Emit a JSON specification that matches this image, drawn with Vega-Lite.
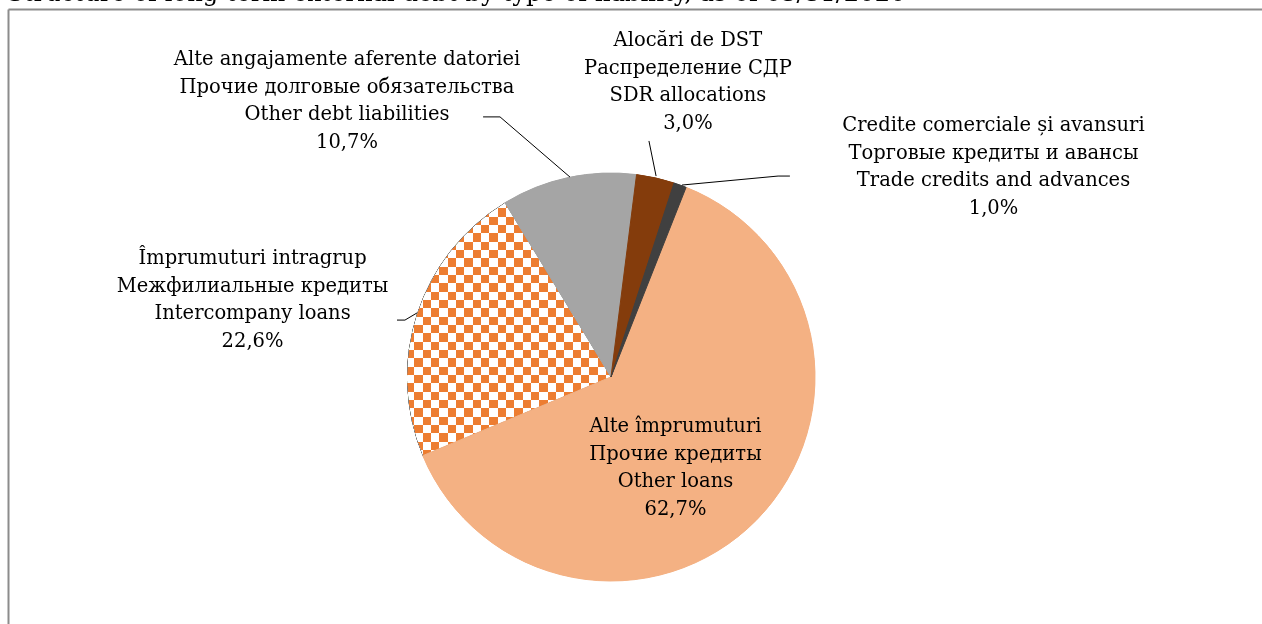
{
  "$schema": "https://vega.github.io/schema/vega-lite/v6.json",
  "width": 1254,
  "height": 615,
  "autosize": {"type": "none"},
  "padding": {"left": 8, "top": 9, "right": 0, "bottom": 0},
  "background": "white",
  "title": {
    "text": "Structure of long-term external debt by type of liability, as of 03/31/2020",
    "anchor": "start",
    "font": "DejaVu Serif",
    "fontSize": 24.3,
    "fontWeight": "normal",
    "color": "#000000",
    "baseline": "alphabetic",
    "offset": 0,
    "dy": 16,
    "dx": -1
  },
  "config": {
    "view": {"stroke": null},
    "font": "DejaVu Serif",
    "axis": {"minExtent": 0, "maxExtent": 0, "labelPadding": 0, "offset": 0}
  },
  "datasets": {
    "slices": [
      {"category": "Other loans", "value": 62.7, "ord": 1},
      {"category": "Intercompany loans", "value": 22.6, "ord": 2},
      {"category": "Other debt liabilities", "value": 10.7, "ord": 3},
      {"category": "SDR allocations", "value": 3.0, "ord": 4},
      {"category": "Trade credits and advances", "value": 1.0, "ord": 5}
    ],
    "labels": [
      {"category": "Other debt liabilities", "label": "Alte angajamente aferente datoriei\nПрочие долговые обязательства\nOther debt liabilities\n10,7%", "lx": -1.294, "ly": 1.559},
      {"category": "SDR allocations", "label": "Alocări de DST\nРаспределение СДР\nSDR allocations\n3,0%", "lx": 0.377, "ly": 1.652},
      {"category": "Trade credits and advances", "label": "Credite comerciale și avansuri\nТорговые кредиты и авансы\nTrade credits and advances\n1,0%", "lx": 1.875, "ly": 1.235},
      {"category": "Intercompany loans", "label": "Împrumuturi intragrup\nМежфилиальные кредиты\nIntercompany loans\n22,6%", "lx": -1.757, "ly": 0.583},
      {"category": "Other loans", "label": "Alte împrumuturi\nПрочие кредиты\nOther loans\n62,7%", "lx": 0.316, "ly": -0.240}
    ],
    "leaders": [
      {"leader": "Other debt liabilities", "seq": 1, "lx": -0.627, "ly": 1.275},
      {"leader": "Other debt liabilities", "seq": 2, "lx": -0.544, "ly": 1.275},
      {"leader": "Other debt liabilities", "seq": 3, "lx": -0.201, "ly": 0.980},
      {"leader": "SDR allocations", "seq": 1, "lx": 0.186, "ly": 1.157},
      {"leader": "SDR allocations", "seq": 2, "lx": 0.221, "ly": 0.985},
      {"leader": "Trade credits and advances", "seq": 1, "lx": 0.877, "ly": 0.985},
      {"leader": "Trade credits and advances", "seq": 2, "lx": 0.819, "ly": 0.985},
      {"leader": "Trade credits and advances", "seq": 3, "lx": 0.348, "ly": 0.941},
      {"leader": "Intercompany loans", "seq": 1, "lx": -1.049, "ly": 0.279},
      {"leader": "Intercompany loans", "seq": 2, "lx": -1.010, "ly": 0.279},
      {"leader": "Intercompany loans", "seq": 3, "lx": -0.951, "ly": 0.314}
    ]
  },
  "layer": [
    {
      "data": {"name": "slices"},
      "mark": {"type": "arc", "outerRadius": 204},
      "encoding": {
        "x": {"datum": 0, "type": "quantitative", "scale": {"domain": [-2.9559, 3.1912], "nice": false, "zero": false},
              "axis": {"orient": "top", "domain": true, "domainColor": "#8c8c8c", "domainWidth": 2, "ticks": false, "labels": false, "grid": false, "title": null}},
        "y": {"datum": 0, "type": "quantitative", "scale": {"domain": [-1.2108, 1.8039], "nice": false, "zero": false},
              "axis": {"orient": "left", "domain": true, "domainColor": "#8c8c8c", "domainWidth": 2, "ticks": false, "labels": false, "grid": false, "title": null}},
        "theta": {"field": "value", "type": "quantitative", "stack": true, "scale": {"range": [0.377, 6.6602]}},
        "order": {"field": "ord", "type": "quantitative"},
        "color": {"field": "category", "type": "nominal", "legend": null,
          "scale": {"domain": ["Other loans", "Intercompany loans", "Other debt liabilities", "SDR allocations", "Trade credits and advances"],
                    "range": ["#F4B183", "#ED7D31", "#A5A5A5", "#843C0C", "#404040"]}}
      }
    },
    {
      "data": {"name": "slices"},
      "mark": {"type": "arc", "outerRadius": 204,
        "fill": {"gradient": "linear", "x1": 0, "y1": 0, "x2": 1, "y2": 0, "stops": [
          {"offset": 0, "color": "#1282CE"}, {"offset": 0.0359, "color": "#1282CE"}, {"offset": 0.0359, "color": "#000000"}, {"offset": 0.0768, "color": "#000000"},
          {"offset": 0.0768, "color": "#1282CE"}, {"offset": 0.1176, "color": "#1282CE"}, {"offset": 0.1176, "color": "#000000"}, {"offset": 0.1585, "color": "#000000"},
          {"offset": 0.1585, "color": "#1282CE"}, {"offset": 0.1993, "color": "#1282CE"}, {"offset": 0.1993, "color": "#000000"}, {"offset": 0.2402, "color": "#000000"},
          {"offset": 0.2402, "color": "#1282CE"}, {"offset": 0.2810, "color": "#1282CE"}, {"offset": 0.2810, "color": "#000000"}, {"offset": 0.3219, "color": "#000000"},
          {"offset": 0.3219, "color": "#1282CE"}, {"offset": 0.3627, "color": "#1282CE"}, {"offset": 0.3627, "color": "#000000"}, {"offset": 0.4036, "color": "#000000"},
          {"offset": 0.4036, "color": "#1282CE"}, {"offset": 0.4444, "color": "#1282CE"}, {"offset": 0.4444, "color": "#000000"}, {"offset": 0.4853, "color": "#000000"},
          {"offset": 0.4853, "color": "#1282CE"}, {"offset": 0.5261, "color": "#1282CE"}, {"offset": 0.5261, "color": "#000000"}, {"offset": 0.5670, "color": "#000000"},
          {"offset": 0.5670, "color": "#1282CE"}, {"offset": 0.6078, "color": "#1282CE"}, {"offset": 0.6078, "color": "#000000"}, {"offset": 0.6487, "color": "#000000"},
          {"offset": 0.6487, "color": "#1282CE"}, {"offset": 0.6895, "color": "#1282CE"}, {"offset": 0.6895, "color": "#000000"}, {"offset": 0.7304, "color": "#000000"},
          {"offset": 0.7304, "color": "#1282CE"}, {"offset": 0.7712, "color": "#1282CE"}, {"offset": 0.7712, "color": "#000000"}, {"offset": 0.8121, "color": "#000000"},
          {"offset": 0.8121, "color": "#1282CE"}, {"offset": 0.8529, "color": "#1282CE"}, {"offset": 0.8529, "color": "#000000"}, {"offset": 0.8938, "color": "#000000"},
          {"offset": 0.8938, "color": "#1282CE"}, {"offset": 0.9346, "color": "#1282CE"}, {"offset": 0.9346, "color": "#000000"}, {"offset": 0.9755, "color": "#000000"},
          {"offset": 0.9755, "color": "#1282CE"}, {"offset": 1, "color": "#1282CE"}
        ]}},
      "encoding": {
        "x": {"datum": 0, "type": "quantitative"},
        "y": {"datum": 0, "type": "quantitative"},
        "theta": {"field": "value", "type": "quantitative", "stack": true},
        "order": {"field": "ord", "type": "quantitative"},
        "opacity": {"condition": {"test": "datum.category === 'Intercompany loans'", "value": 1}, "value": 0}
      }
    },
    {
      "data": {"name": "slices"},
      "mark": {"type": "arc", "outerRadius": 204, "blend": "difference",
        "fill": {"gradient": "linear", "x1": 0, "y1": 0, "x2": 0, "y2": 1, "stops": [
          {"offset": 0, "color": "#000000"}, {"offset": 0.0223, "color": "#000000"}, {"offset": 0.0223, "color": "#1282CE"}, {"offset": 0.0552, "color": "#1282CE"},
          {"offset": 0.0552, "color": "#000000"}, {"offset": 0.0881, "color": "#000000"}, {"offset": 0.0881, "color": "#1282CE"}, {"offset": 0.1211, "color": "#1282CE"},
          {"offset": 0.1211, "color": "#000000"}, {"offset": 0.1540, "color": "#000000"}, {"offset": 0.1540, "color": "#1282CE"}, {"offset": 0.1870, "color": "#1282CE"},
          {"offset": 0.1870, "color": "#000000"}, {"offset": 0.2199, "color": "#000000"}, {"offset": 0.2199, "color": "#1282CE"}, {"offset": 0.2528, "color": "#1282CE"},
          {"offset": 0.2528, "color": "#000000"}, {"offset": 0.2858, "color": "#000000"}, {"offset": 0.2858, "color": "#1282CE"}, {"offset": 0.3187, "color": "#1282CE"},
          {"offset": 0.3187, "color": "#000000"}, {"offset": 0.3517, "color": "#000000"}, {"offset": 0.3517, "color": "#1282CE"}, {"offset": 0.3846, "color": "#1282CE"},
          {"offset": 0.3846, "color": "#000000"}, {"offset": 0.4175, "color": "#000000"}, {"offset": 0.4175, "color": "#1282CE"}, {"offset": 0.4505, "color": "#1282CE"},
          {"offset": 0.4505, "color": "#000000"}, {"offset": 0.4834, "color": "#000000"}, {"offset": 0.4834, "color": "#1282CE"}, {"offset": 0.5163, "color": "#1282CE"},
          {"offset": 0.5163, "color": "#000000"}, {"offset": 0.5493, "color": "#000000"}, {"offset": 0.5493, "color": "#1282CE"}, {"offset": 0.5822, "color": "#1282CE"},
          {"offset": 0.5822, "color": "#000000"}, {"offset": 0.6151, "color": "#000000"}, {"offset": 0.6151, "color": "#1282CE"}, {"offset": 0.6481, "color": "#1282CE"},
          {"offset": 0.6481, "color": "#000000"}, {"offset": 0.6810, "color": "#000000"}, {"offset": 0.6810, "color": "#1282CE"}, {"offset": 0.7140, "color": "#1282CE"},
          {"offset": 0.7140, "color": "#000000"}, {"offset": 0.7469, "color": "#000000"}, {"offset": 0.7469, "color": "#1282CE"}, {"offset": 0.7798, "color": "#1282CE"},
          {"offset": 0.7798, "color": "#000000"}, {"offset": 0.8128, "color": "#000000"}, {"offset": 0.8128, "color": "#1282CE"}, {"offset": 0.8457, "color": "#1282CE"},
          {"offset": 0.8457, "color": "#000000"}, {"offset": 0.8787, "color": "#000000"}, {"offset": 0.8787, "color": "#1282CE"}, {"offset": 0.9116, "color": "#1282CE"},
          {"offset": 0.9116, "color": "#000000"}, {"offset": 0.9445, "color": "#000000"}, {"offset": 0.9445, "color": "#1282CE"}, {"offset": 0.9775, "color": "#1282CE"},
          {"offset": 0.9775, "color": "#000000"}, {"offset": 1, "color": "#000000"}
        ]}},
      "encoding": {
        "x": {"datum": 0, "type": "quantitative"},
        "y": {"datum": 0, "type": "quantitative"},
        "theta": {"field": "value", "type": "quantitative", "stack": true},
        "order": {"field": "ord", "type": "quantitative"},
        "opacity": {"condition": {"test": "datum.category === 'Intercompany loans'", "value": 1}, "value": 0}
      }
    },
    {
      "data": {"name": "slices"},
      "mark": {"type": "arc", "outerRadius": 204, "blend": "difference", "fill": "#FFFFFF"},
      "encoding": {
        "x": {"datum": 0, "type": "quantitative"},
        "y": {"datum": 0, "type": "quantitative"},
        "theta": {"field": "value", "type": "quantitative", "stack": true},
        "order": {"field": "ord", "type": "quantitative"},
        "opacity": {"condition": {"test": "datum.category === 'Intercompany loans'", "value": 1}, "value": 0}
      }
    },
    {
      "data": {"name": "slices"},
      "mark": {"type": "arc", "outerRadius": 204, "strokeWidth": 1},
      "encoding": {
        "x": {"datum": 0, "type": "quantitative"},
        "y": {"datum": 0, "type": "quantitative"},
        "theta": {"field": "value", "type": "quantitative", "stack": true},
        "order": {"field": "ord", "type": "quantitative"},
        "color": {"field": "category", "type": "nominal", "legend": null},
        "stroke": {"field": "category", "type": "nominal", "legend": null,
          "scale": {"domain": ["Other loans", "Intercompany loans", "Other debt liabilities", "SDR allocations", "Trade credits and advances"],
                    "range": ["#F4B183", "#ED7D31", "#A5A5A5", "#843C0C", "#404040"]}},
        "opacity": {"condition": {"test": "datum.category === 'Intercompany loans'", "value": 0}, "value": 1}
      }
    },
    {
      "data": {"name": "leaders"},
      "mark": {"type": "line", "color": "#000000", "strokeWidth": 1},
      "encoding": {
        "x": {"field": "lx", "type": "quantitative"},
        "y": {"field": "ly", "type": "quantitative"},
        "detail": {"field": "leader", "type": "nominal"},
        "order": {"field": "seq", "type": "quantitative"}
      }
    },
    {
      "data": {"name": "labels"},
      "mark": {"type": "text", "align": "center", "baseline": "middle", "lineBreak": "\n", "lineHeight": 27.6, "fontSize": 19.5, "font": "DejaVu Serif", "color": "#000000"},
      "encoding": {
        "x": {"field": "lx", "type": "quantitative"},
        "y": {"field": "ly", "type": "quantitative"},
        "text": {"field": "label", "type": "nominal"}
      }
    }
  ]
}
